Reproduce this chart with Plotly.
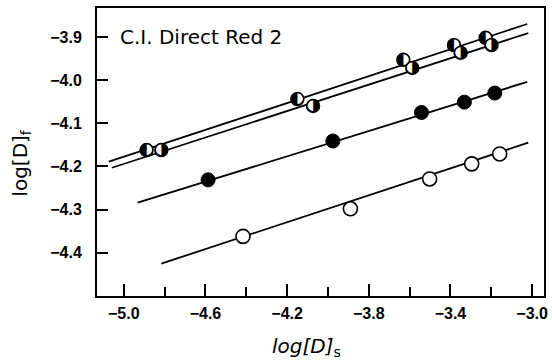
import plotly.graph_objects as go

# ---- data ----
upper_x = [-4.888, -4.150, -3.631, -3.383, -3.228]
upper_y = [-4.162, -4.044, -3.953, -3.919, -3.902]
lower_x = [-4.816, -4.073, -3.587, -3.350, -3.199]
lower_y = [-4.162, -4.060, -3.972, -3.937, -3.919]
filled_x = [-4.587, -3.976, -3.542, -3.332, -3.183]
filled_y = [-4.231, -4.141, -4.075, -4.051, -4.030]
open_x = [-4.416, -3.890, -3.502, -3.296, -3.159]
open_y = [-4.362, -4.298, -4.229, -4.194, -4.171]

# fitted straight lines (end points)
upper_line_x = [-5.073, -3.024]
upper_line_y = [-4.189, -3.870]
lower_line_x = [-5.058, -3.019]
lower_line_y = [-4.203, -3.891]
filled_line_x = [-4.932, -3.024]
filled_line_y = [-4.284, -4.004]
open_line_x = [-4.816, -3.019]
open_line_y = [-4.425, -4.145]

x_major = [-5.0, -4.6, -4.2, -3.8, -3.4, -3.0]
x_minor = [-4.8, -4.4, -4.0, -3.6, -3.2]
y_ticks = [-3.9, -4.0, -4.1, -4.2, -4.3, -4.4]

title_text = "C.I. Direct Red 2"

fig = go.Figure()
line_style = dict(color="black", width=1.8)
for lx, ly in [(upper_line_x, upper_line_y), (lower_line_x, lower_line_y),
               (filled_line_x, filled_line_y), (open_line_x, open_line_y)]:
    fig.add_trace(go.Scatter(x=lx, y=ly, mode="lines", line=line_style, hoverinfo="skip"))

open_marker = dict(symbol="circle", size=14, color="white", line=dict(color="black", width=1.6))
fig.add_trace(go.Scatter(x=open_x, y=open_y, mode="markers", marker=open_marker))
fig.add_trace(go.Scatter(x=filled_x, y=filled_y, mode="markers",
                         marker=dict(symbol="circle", size=14, color="black", line=dict(color="black", width=1))))

half_marker = dict(symbol="circle", size=13, color="white", line=dict(color="black", width=1.4))
for hx, hy, glyph in [(upper_x, upper_y, "\u25D0"), (lower_x, lower_y, "\u25D1")]:
    fig.add_trace(go.Scatter(x=hx, y=hy, mode="markers", marker=half_marker))
    fig.add_trace(go.Scatter(x=hx, y=hy, mode="text", text=[glyph] * len(hx),
                             textposition="middle center",
                             textfont=dict(family="DejaVu Sans", size=17, color="black")))

axis_common = dict(showline=True, linecolor="black", linewidth=2, mirror=True,
                   showgrid=False, zeroline=False, ticks="inside", tickcolor="black",
                   tickwidth=1.6,
                   tickfont=dict(family="Liberation Sans", size=16, color="black", weight="bold"))

fig.update_xaxes(range=[-5.131, -2.942], tickvals=x_major,
                 ticktext=["\u2212%.1f" % abs(v) for v in x_major], ticklen=12,
                 ticklabelstandoff=2,
                 minor=dict(tickvals=x_minor, ticks="inside", ticklen=9, tickcolor="black", tickwidth=1.6),
                 **axis_common)
fig.update_yaxes(range=[-4.50, -3.833], tickvals=y_ticks,
                 ticktext=["\u2212%.1f" % abs(v) for v in y_ticks], ticklen=11,
                 ticklabelstandoff=10, **axis_common)

fig.update_layout(
    width=552, height=360,
    margin=dict(l=97, r=4, t=8, b=64),
    plot_bgcolor="white", paper_bgcolor="white",
    showlegend=False,
    font=dict(family="DejaVu Sans", color="black"),
    annotations=[
        dict(text=title_text, x=0.0466, y=0.899, xref="paper", yref="paper",
             xanchor="left", yanchor="middle", showarrow=False,
             font=dict(size=20, family="DejaVu Sans", color="black")),
        dict(text="<i>log[D]</i><sub>s</sub>", x=0.468, y=-0.177, xref="paper", yref="paper",
             xanchor="center", yanchor="middle", showarrow=False,
             font=dict(size=20, family="DejaVu Sans", color="black")),
        dict(text="log[D]<sub>f</sub>", x=-0.1707, y=0.462, xref="paper", yref="paper",
             xanchor="center", yanchor="middle", showarrow=False, textangle=-90,
             font=dict(size=20, family="DejaVu Sans", color="black")),
    ],
)

fig.write_html("out.html")
